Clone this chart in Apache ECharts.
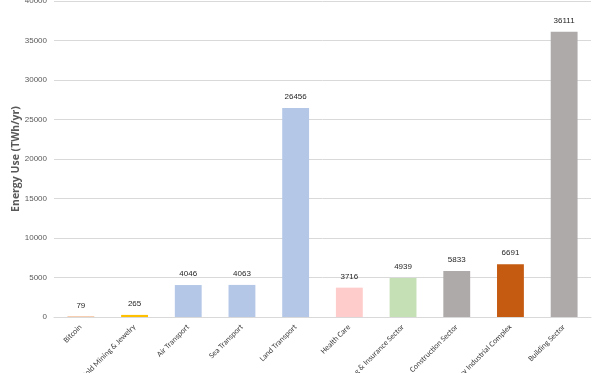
<!DOCTYPE html>
<html><head><meta charset="utf-8">
<script src="https://cdn.jsdelivr.net/npm/echarts@6/dist/echarts.min.js"></script>
<style>html,body{margin:0;padding:0;background:#fff}#c{width:600px;height:373px}</style>
</head><body><div id="c"></div>
<script>
const categories = ["Bitcoin","Gold Mining & Jewelry","Air Transport","Sea Transport","Land Transport","Health Care","Banking & Insurance Sector","Construction Sector","Military Industrial Complex","Building Sector"];
const values = [79,265,4046,4063,26456,3716,4939,5833,6691,36111];
const barColors = ["#f4b183","#ffc000","#b4c7e7","#b4c7e7","#b4c7e7","#ffcccc","#c5e0b4","#aeaaaa","#c55a11","#aeaaaa"];
const chart = echarts.init(document.getElementById('c'));
chart.setOption({
  animation:false,
  grid:{left:54,right:9,top:1,bottom:56,containLabel:false,outerBoundsMode:'none'},
  xAxis:{type:'category',data:categories,
    axisLine:{lineStyle:{color:'#d9d9d9'}},axisTick:{show:false},
    axisLabel:{rotate:45,fontSize:8,color:'#404040',fontFamily:'Carlito, Calibri, "Liberation Sans", sans-serif',interval:0,margin:9}},
  yAxis:{type:'value',min:0,max:40000,interval:5000,
    name:'Energy Use (TWh/yr)',nameLocation:'middle',nameGap:32,nameMoveOverlap:false,
    nameTextStyle:{fontSize:10.5,fontWeight:'bold',color:'#595959',fontFamily:'"Open Sans", "Liberation Sans", sans-serif'},
    axisLine:{show:false},axisTick:{show:false},
    axisLabel:{fontSize:8,color:'#595959',margin:7,formatter:v=>String(v)},
    splitLine:{lineStyle:{color:'#d9d9d9',width:1}}},
  series:[{type:'bar',barWidth:'50%',
    data:values.map((v,i)=>({value:v,itemStyle:{color:barColors[i]}})),
    label:{show:true,position:'top',fontSize:8,color:'#262626',distance:7}}]
});
</script></body></html>
